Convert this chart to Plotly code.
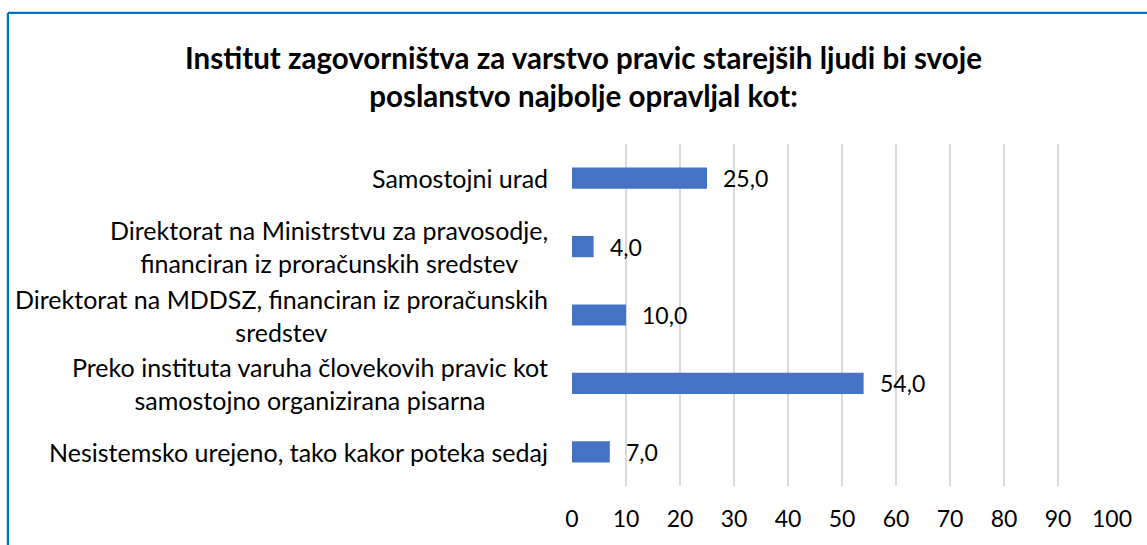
import plotly.graph_objects as go

categories = [
    "Samostojni urad",
    "Direktorat na Ministrstvu za pravosodje,<br>financiran iz proračunskih sredstev",
    "Direktorat na MDDSZ, financiran iz proračunskih<br>sredstev",
    "Preko instituta varuha človekovih pravic kot<br>samostojno organizirana pisarna",
    "Nesistemsko urejeno, tako kakor poteka sedaj",
]
values = [25.0, 4.0, 10.0, 54.0, 7.0]
value_labels = [f"{v:.1f}".replace(".", ",") for v in values]
x_ticks = list(range(0, 101, 10))
title_text = ("Institut zagovorništva za varstvo pravic starejših ljudi bi svoje<br>"
              "poslanstvo najbolje opravljal kot:")

FONT = "Lato"
W, H = 1147, 545
L, R, T, B = 572, 35, 144, 59
pw, ph = W - L - R, H - T - B

fig = go.Figure(go.Bar(
    y=categories, x=values, orientation="h",
    marker=dict(color="#4472C4", line=dict(width=0)),
    width=0.31,
    cliponaxis=False,
))

annotations = []
for c in categories:
    annotations.append(dict(
        xref="paper", yref="y", x=0, y=c, text=c, showarrow=False,
        xanchor="right", yanchor="middle", align="center", xshift=-22,
        font=dict(family=FONT, size=25, color="#000000"),
    ))
for c, v, lab in zip(categories, values, value_labels):
    annotations.append(dict(
        xref="x", yref="y", x=v, y=c, text=lab, showarrow=False,
        xanchor="left", yanchor="middle", xshift=14,
        font=dict(family=FONT, size=23, color="#000000"),
    ))

def px_x(p):
    return (p - L) / pw

def px_y(p):
    return (H - B - p) / ph

border = dict(color="#0070C0", width=2.2)
fig.update_layout(
    width=W, height=H,
    margin=dict(l=L, r=R, t=T, b=B),
    paper_bgcolor="white", plot_bgcolor="white",
    title=dict(text=title_text, x=583.5 / W, xanchor="center", y=1 - 69 / H, yanchor="middle",
               font=dict(family=FONT, size=29.5, color="#000000", weight="bold")),
    xaxis=dict(range=[0, 100], tickvals=x_ticks, showgrid=True, gridcolor="#D9D9D9",
               gridwidth=1.5, zeroline=False, showline=False, ticks="",
               tickfont=dict(family=FONT, size=23, color="#000000"),
               ticklabelstandoff=17),
    yaxis=dict(autorange="reversed", showticklabels=False, showgrid=False,
               zeroline=False, showline=False, ticks=""),
    showlegend=False,
    annotations=annotations,
    shapes=[
        dict(type="line", xref="paper", yref="paper",
             x0=px_x(7.9), x1=px_x(1170), y0=px_y(12.9), y1=px_y(12.9), line=border),
        dict(type="line", xref="paper", yref="paper",
             x0=px_x(7.9), x1=px_x(7.9), y0=px_y(12.9), y1=px_y(570), line=border),
    ],
)

fig.write_html("out.html", config={"displayModeBar": False},
               post_script="document.body.style.margin='0px';")
